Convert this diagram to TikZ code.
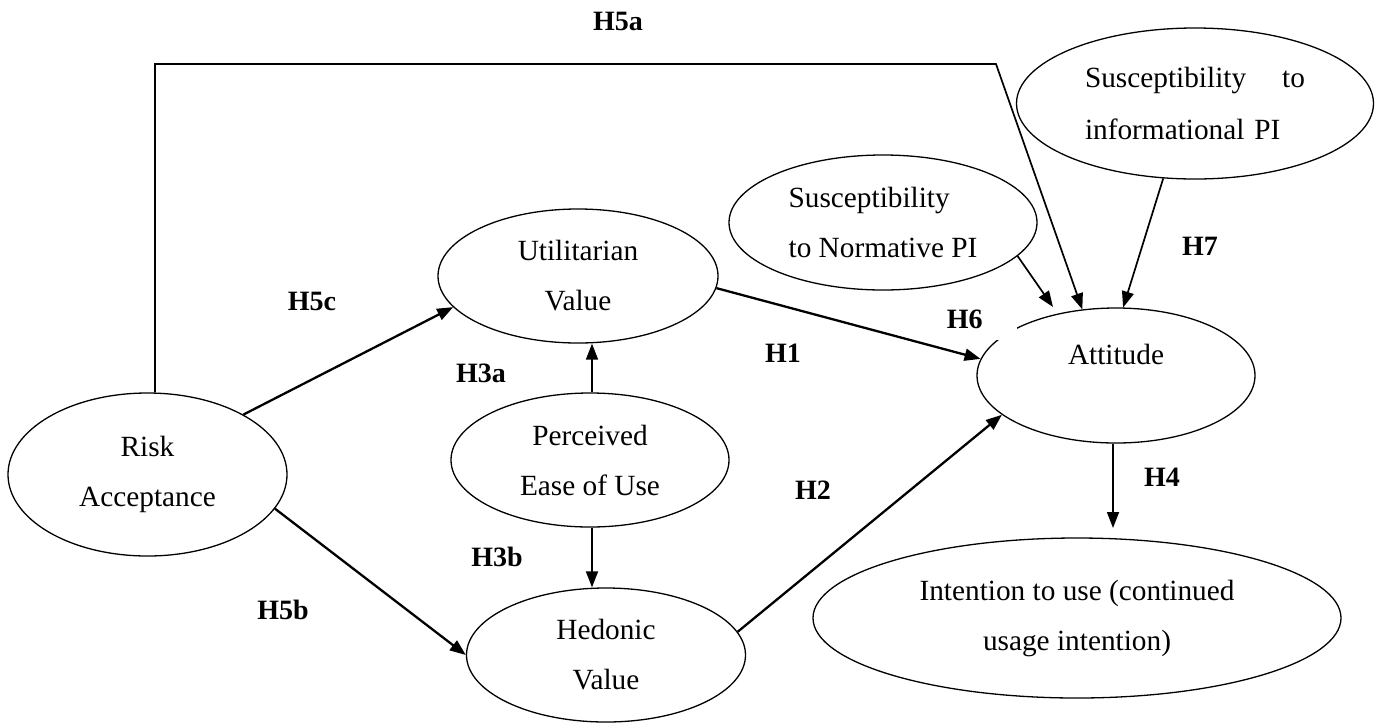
\documentclass[tikz,border=0pt]{standalone}
\usepackage{fontspec}
\setmainfont{Liberation Serif}
\usetikzlibrary{arrows.meta,shapes.geometric}
\begin{document}
\begin{tikzpicture}[x=1pt,y=-1pt,
  ell/.style={draw, ellipse, line width=1.3pt, inner sep=0pt, align=center,
              font=\fontsize{29.3}{50}\selectfont},
  hyp/.style={font=\fontsize{28}{30}\selectfont\bfseries, inner sep=0pt},
  tip/.style={-{Triangle[length=16pt,width=12pt]}},
  arr/.style={tip, line width=1.7pt},
  heavy/.style={tip, line width=2.3pt}]
\useasboundingbox (0,0) rectangle (1384,724);

% constructs
\node[ell, minimum width=279pt, minimum height=163pt] (ra) at (147.5,474.5) {Risk\\Acceptance};
\node[ell, minimum width=280pt, minimum height=134pt] (uv) at (578,276) {Utilitarian\\Value};
\node[ell, minimum width=278pt, minimum height=134pt] (pe) at (590,460) {Perceived\\Ease of Use};
\node[ell, minimum width=279pt, minimum height=134pt] (hv) at (606,655) {Hedonic\\Value};
\node[ell, minimum width=278pt, minimum height=135pt, text height=20pt, text depth=42pt] (att) at (1116,375.5) {Attitude};
\node[ell, minimum width=308pt, minimum height=135pt, align=left] (npi) at (883,222.5) {Susceptibility\\to Normative PI};
\node[ell, minimum width=357pt, minimum height=151pt, text width=220pt, align=left,
      font=\fontsize{29.3}{52}\selectfont] (ipi) at (1195,103.5) {Susceptibility\hfill to\\\mbox{informational PI}};
\node[ell, minimum width=528pt, minimum height=160pt] (iu) at (1077,618) {Intention to use (continued\\usage intention)};

% helper points
\coordinate (h5aL) at (155,64);
\coordinate (h5aR) at (996,64);
\coordinate (h3x) at (592,0);
\coordinate (h4end) at (1113,528);
\coordinate (h6end) at (1053,307);

% paths
\draw[arr] (ra.north -| h5aL) -- (h5aL) -- (h5aR) -- (att.117);
\draw[heavy] (ra.32.8) -- (uv.194);
\draw[heavy] (ra.-15.8) -- (hv.180);
\draw[heavy] (uv.-5.75) -- (att.173);
\draw[heavy] (hv.10.3) -- (att.199);
\draw[arr] (pe.north -| h3x) -- (uv.south -| h3x);
\draw[arr] (pe.south -| h3x) -- (hv.north -| h3x);
\draw[arr] (att.south -| h4end) -- (h4end);
\draw[arr] (npi.-14.3) -- (h6end);
\draw[arr] (ipi.247.7) -- (att.84);

% hypothesis labels
\node[hyp] (l5a) at (618,21) {H5a};
\node[hyp] (l5c) at (312,301) {H5c};
\node[hyp] (l3a) at (481,373) {H3a};
\node[hyp] (l5b) at (283,610) {H5b};
\node[hyp] (l3b) at (497,557) {H3b};
\node[hyp] (l1) at (783,353) {H1};
\node[hyp] (l2) at (813,490) {H2};
\node[hyp] (l4) at (1162,477) {H4};
\node[hyp] (l7) at (1200,246) {H7};
\node[hyp, fill=white, anchor=south east, minimum height=40pt, text width=70pt, align=left] (l6) at (1017,340) {H6};
\end{tikzpicture}
\end{document}
